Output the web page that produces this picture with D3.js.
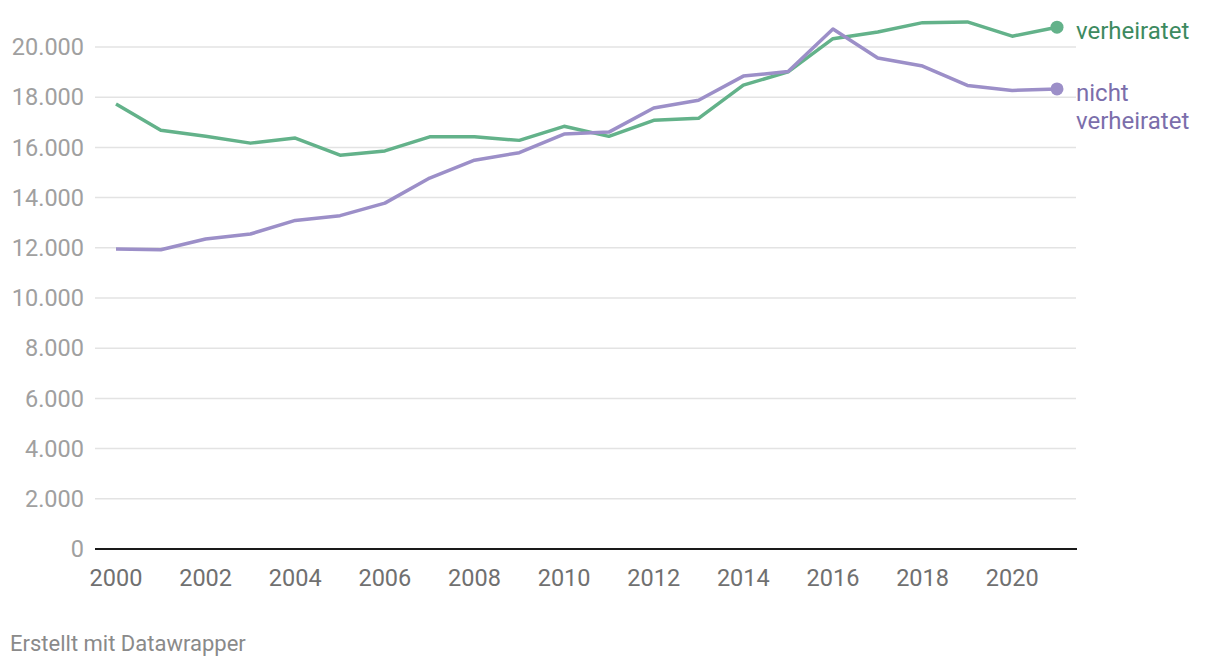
<!DOCTYPE html>
<html>
<head>
<meta charset="utf-8">
<script src="https://cdn.jsdelivr.net/npm/d3@7"></script>
<style>
  body { margin: 0; background: #fff; }
  svg { display: block; font-family: Roboto, sans-serif; }
</style>
</head>
<body>
<script>
// values
const years = d3.range(2000, 2022);
const verheiratet = [17730, 16680, 16440, 16170, 16370, 15690, 15860, 16420, 16420, 16280,
  16840, 16440, 17080, 17160, 18480, 19010, 20330, 20600, 20970, 21000, 20430, 20790];
const nichtVerheiratet = [11950, 11920, 12350, 12550, 13090, 13280, 13780, 14780, 15490, 15790,
  16530, 16610, 17570, 17880, 18840, 19020, 20720, 19560, 19240, 18470, 18270, 18330];
const yTicks = [0, 2000, 4000, 6000, 8000, 10000, 12000, 14000, 16000, 18000, 20000];
const xTicks = [2000, 2002, 2004, 2006, 2008, 2010, 2012, 2014, 2016, 2018, 2020];

const series = [
  { name: ["verheiratet"], values: verheiratet, line: "#63b28a", text: "#3d8a60" },
  { name: ["nicht", "verheiratet"], values: nichtVerheiratet, line: "#9c8fc8", text: "#7b6eab" }
];

const width = 1220, height = 666;
const de = d3.formatLocale({ decimal: ",", thousands: ".", grouping: [3], currency: ["", "€"] });
const fmt = de.format(",");

const x = d3.scaleLinear().domain([2000, 2021]).range([116, 1057]);
const y = d3.scaleLinear().domain([0, 20000]).range([549, 47]);

const svg = d3.select("body").append("svg")
  .attr("width", width)
  .attr("height", height);

// grid lines
svg.append("g")
  .selectAll("line")
  .data(yTicks.filter(d => d !== 0))
  .join("line")
  .attr("x1", 95).attr("x2", 1076)
  .attr("y1", d => y(d)).attr("y2", d => y(d))
  .attr("stroke", "#e3e3e3")
  .attr("stroke-width", 1.5);

// y labels
svg.append("g")
  .selectAll("text")
  .data(yTicks)
  .join("text")
  .attr("x", 84)
  .attr("y", d => y(d))
  .attr("dy", "0.35em")
  .attr("text-anchor", "end")
  .attr("fill", "#a0a0a0")
  .attr("font-size", 23.5)
  .text(d => fmt(d));

// baseline
svg.append("line")
  .attr("x1", 95).attr("x2", 1077)
  .attr("y1", y(0)).attr("y2", y(0))
  .attr("stroke", "#1a1a1a")
  .attr("stroke-width", 2);

// x labels
svg.append("g")
  .selectAll("text")
  .data(xTicks)
  .join("text")
  .attr("x", d => x(d))
  .attr("y", 585.5)
  .attr("text-anchor", "middle")
  .attr("fill", "#707070")
  .attr("font-size", 23.5)
  .text(d => d);

const line = d3.line()
  .x((d, i) => x(years[i]))
  .y(d => y(d));

series.forEach(s => {
  svg.append("path")
    .datum(s.values)
    .attr("fill", "none")
    .attr("stroke", s.line)
    .attr("stroke-width", 3.5)
    .attr("stroke-linejoin", "round")
    .attr("d", line);

  const last = s.values[s.values.length - 1];
  svg.append("circle")
    .attr("cx", x(2021))
    .attr("cy", y(last))
    .attr("r", 6.5)
    .attr("fill", s.line);

  svg.append("text")
    .attr("x", 1076)
    .attr("y", y(last) + 12)
    .attr("fill", s.text)
    .attr("font-size", 24)
    .selectAll("tspan")
    .data(s.name)
    .join("tspan")
    .attr("x", 1076)
    .attr("dy", (d, i) => i === 0 ? 0 : 28)
    .text(d => d);
});

svg.append("text")
  .attr("x", 10)
  .attr("y", 651)
  .attr("fill", "#8a8a8a")
  .attr("font-size", 22)
  .text("Erstellt mit Datawrapper");
</script>
</body>
</html>
